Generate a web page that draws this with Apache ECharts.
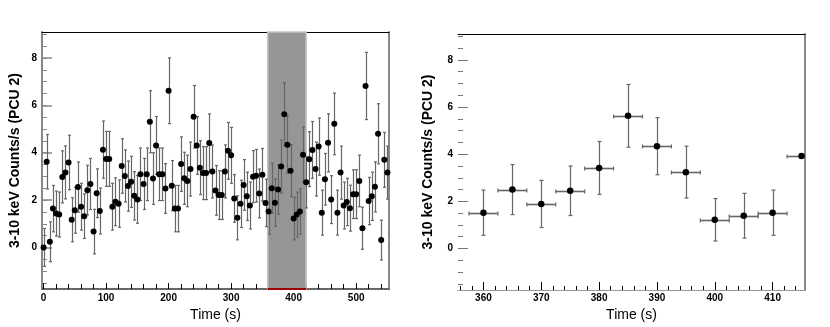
<!DOCTYPE html>
<html>
<head>
<meta charset="utf-8">
<script src="https://cdn.jsdelivr.net/npm/echarts@6/dist/echarts.min.js"></script>
<style>
html, body { margin: 0; padding: 0; background: #fff; }
#chart { width: 830px; height: 327px; }
</style>
</head>
<body>
<div id="chart"></div>
<script>
'use strict';

// full light curve, 5 s bins
var times = [
    0, 5, 10, 15, 20, 25, 30, 35, 40, 45,
    50, 55, 60, 65, 70, 75, 80, 85, 90, 95,
    100, 105, 110, 115, 120, 125, 130, 135, 140, 145,
    150, 155, 160, 165, 170, 175, 180, 185, 190, 195,
    200, 205, 210, 215, 220, 225, 230, 235, 240, 245,
    250, 255, 260, 265, 270, 275, 280, 285, 290, 295,
    300, 305, 310, 315, 320, 325, 330, 335, 340, 345,
    350, 355, 360, 365, 370, 375, 380, 385, 390, 395,
    400, 405, 410, 415, 420, 425, 430, 435, 440, 445,
    450, 455, 460, 465, 470, 475, 480, 485, 490, 495,
    500, 505, 510, 515, 520, 525, 530, 535, 540, 545,
    550
];
var rates = [
    0.00, 3.62, 0.24, 1.64, 1.43, 1.39, 2.98, 3.17, 3.59, 1.17,
    1.57, 2.55, 1.72, 1.32, 2.42, 2.68, 0.67, 2.29, 1.54, 4.13,
    3.74, 3.74, 1.72, 1.93, 1.85, 3.44, 3.02, 2.59, 2.77, 2.18,
    2.03, 3.09, 2.68, 3.09, 5.31, 2.91, 4.31, 3.09, 3.09, 2.49,
    6.62, 2.61, 1.64, 1.64, 3.52, 2.92, 2.81, 3.31, 5.52, 4.31,
    3.37, 3.14, 3.14, 4.41, 3.21, 2.41, 2.21, 2.21, 3.21, 4.08,
    3.89, 2.07, 1.25, 1.84, 2.64, 2.16, 1.77, 2.99, 3.03, 2.28,
    3.07, 1.88, 1.52, 2.50, 1.89, 2.45, 3.42, 5.63, 4.34, 3.24,
    1.22, 1.39, 1.52, 3.92, 2.75, 3.73, 4.12, 3.31, 4.26, 1.47,
    2.88, 4.42, 2.02, 5.22, 1.47, 3.16, 1.77, 1.92, 1.66, 2.25,
    2.25, 2.81, 0.81, 6.82, 1.96, 2.16, 2.56, 4.80, 0.31, 3.70,
    3.16
];
var rateErrors = [
    0.80, 1.15, 0.84, 0.98, 0.95, 0.95, 1.10, 1.12, 1.15, 0.93,
    0.97, 1.06, 0.99, 0.94, 1.05, 1.08, 0.94, 1.03, 0.97, 1.21,
    1.16, 1.16, 0.99, 1.01, 1.00, 1.15, 1.10, 1.06, 1.08, 1.02,
    1.01, 1.11, 1.08, 1.11, 1.31, 1.09, 1.22, 1.11, 1.11, 1.05,
    1.39, 1.06, 0.98, 0.98, 1.15, 1.10, 1.09, 1.14, 1.32, 1.22,
    1.14, 1.12, 1.12, 1.23, 1.12, 1.05, 1.03, 1.03, 1.12, 1.20,
    1.18, 1.01, 0.93, 1.00, 1.07, 1.02, 0.99, 1.10, 1.11, 1.03,
    1.11, 1.00, 0.96, 1.06, 1.00, 1.05, 1.12, 1.33, 1.21, 1.10,
    0.90, 0.95, 0.96, 1.17, 1.08, 1.16, 1.20, 1.14, 1.21, 0.95,
    1.09, 1.23, 1.01, 1.30, 0.95, 1.12, 0.99, 1.00, 0.97, 1.03,
    1.03, 1.09, 0.89, 1.42, 1.00, 1.02, 1.06, 1.27, 0.84, 1.16,
    1.12
];

// zoomed interval (right panel)
var zoomTimes = [360, 365, 370, 375, 380, 385, 390, 395, 400, 405, 410, 415];
var zoomRates = [1.52, 2.50, 1.89, 2.45, 3.42, 5.63, 4.34, 3.24, 1.22, 1.39, 1.52, 3.92];
var zoomErrors = [0.96, 1.06, 1.00, 1.05, 1.12, 1.33, 1.21, 1.10, 0.90, 0.95, 0.96, 0];
var binHalfWidth = 2.5;

// highlighted interval on the full curve
var shadeRange = [358.5, 420];

// tick labels
var fullTimeTicks = [0, 100, 200, 300, 400, 500];
var zoomTimeTicks = [360, 370, 380, 390, 400, 410];
var rateTicks = [0, 2, 4, 6, 8];

var fullRange = [-2.5, 552.5];
var zoomRange = [355.6, 415.6];
var rateRange = [-1.76, 9.1];

function steps(from, to, step) {
    var out = [];
    for (var v = from; v <= to + 1e-9; v += step) out.push(+v.toFixed(4));
    return out;
}
var fullTimeMinor = steps(20, 540, 20);
var zoomTimeMinor = steps(356, 414, 2);
var rateMinor = steps(-1.5, 9, 0.5);

var FONT = 'Liberation Sans';
var barColor = '#666';

var labelStyle = { fontFamily: 'Liberation Sans Narrow, Liberation Sans', fontSize: 10, fontWeight: 'bold', color: '#000' };

function mainAxis(grid, pos, range, ticks, opts) {
    return {
        type: 'value', gridIndex: grid, position: pos,
        min: range[0], max: range[1],
        splitLine: { show: false },
        axisLine: { show: opts.line !== false, onZero: false,
                    lineStyle: { color: opts.lineColor || '#777', width: opts.lineWidth || 1 } },
        axisTick: { inside: true, length: opts.tickLen, customValues: ticks,
                    lineStyle: { color: opts.tickColor || '#000', width: opts.tickWidth || 1 } },
        axisLabel: Object.assign({ customValues: ticks, margin: opts.margin }, labelStyle),
        name: opts.name || '', nameLocation: 'middle', nameGap: opts.nameGap || 0,
        nameTextStyle: { fontFamily: FONT, fontSize: 14, fontWeight: opts.nameWeight || 'normal', color: '#000' }
    };
}

function minorAxis(grid, pos, range, ticks, len, color) {
    return {
        type: 'value', gridIndex: grid, position: pos,
        min: range[0], max: range[1],
        splitLine: { show: false },
        axisLine: { show: false, onZero: false },
        axisTick: { inside: true, length: len, customValues: ticks, lineStyle: { color: color, width: 1 } },
        axisLabel: { show: false }
    };
}

function frameAxis(grid, pos, range, color, width) {
    return {
        type: 'value', gridIndex: grid, position: pos,
        min: range[0], max: range[1],
        splitLine: { show: false },
        axisLine: { show: true, onZero: false, lineStyle: { color: color, width: width } },
        axisTick: { show: false },
        axisLabel: { show: false }
    };
}

function errorBars(cap, withX) {
    return function (params, api) {
        var t = api.value(0), v = api.value(1), ey = api.value(2), ex = api.value(3);
        var style = { stroke: barColor, lineWidth: 1.2 };
        var kids = [];
        if (ey > 0) {
            var lo = api.coord([t, v - ey]), hi = api.coord([t, v + ey]);
            var x = Math.round(lo[0]) + 0.5;
            kids.push({ type: 'line', shape: { x1: x, y1: lo[1], x2: x, y2: hi[1] }, style: style });
            kids.push({ type: 'line', shape: { x1: x - cap, y1: lo[1], x2: x + cap, y2: lo[1] }, style: style });
            kids.push({ type: 'line', shape: { x1: x - cap, y1: hi[1], x2: x + cap, y2: hi[1] }, style: style });
        }
        if (withX && ex > 0) {
            var l = api.coord([t - ex, v]), r = api.coord([t + ex, v]);
            var y = Math.round(l[1]) + 0.5;
            var xs = { stroke: barColor, lineWidth: 1.6 };
            kids.push({ type: 'line', shape: { x1: l[0], y1: y, x2: r[0], y2: y }, style: xs });
            kids.push({ type: 'line', shape: { x1: l[0], y1: y - cap, x2: l[0], y2: y + cap }, style: style });
            kids.push({ type: 'line', shape: { x1: r[0], y1: y - cap, x2: r[0], y2: y + cap }, style: style });
        }
        return { type: 'group', children: kids };
    };
}

var fullPoints = times.map(function (t, i) { return [t, rates[i], rateErrors[i], 0]; });
var zoomPoints = zoomTimes.map(function (t, i) { return [t, zoomRates[i], zoomErrors[i], binHalfWidth]; });

var chart = echarts.init(document.getElementById('chart'), null, { renderer: 'canvas' });

var option = {
    animation: false,
    backgroundColor: '#fff',
    grid: [
        { left: 42, top: 32, width: 347, height: 260 },
        { left: 458, top: 34, width: 347, height: 261 }
    ],
    xAxis: [
        mainAxis(0, 'bottom', fullRange, fullTimeTicks, { tickLen: 6, margin: 4, lineColor: '#666', lineWidth: 2,
            name: 'Time (s)', nameGap: 17 }),
        minorAxis(0, 'bottom', fullRange, fullTimeMinor, 5, '#000'),
        frameAxis(0, 'top', fullRange, '#000', 1),
        mainAxis(1, 'bottom', zoomRange, zoomTimeTicks, { tickLen: 8, margin: 3, lineColor: '#999', lineWidth: 1,
            name: 'Time (s)', nameGap: 18 }),
        minorAxis(1, 'bottom', zoomRange, zoomTimeMinor, 4, '#000'),
        frameAxis(1, 'top', zoomRange, '#000', 1)
    ],
    yAxis: [
        mainAxis(0, 'left', rateRange, rateTicks, { tickLen: 10, margin: 5, lineColor: '#888', lineWidth: 2,
            tickColor: '#888', tickWidth: 1.5,
            name: '3-10 keV Counts/s (PCU 2)', nameGap: 20, nameWeight: 'bold' }),
        minorAxis(0, 'left', rateRange, rateMinor, 5, '#888'),
        frameAxis(0, 'right', rateRange, '#888', 2),
        mainAxis(1, 'left', rateRange, rateTicks, { tickLen: 10, margin: 5, line: false,
            tickColor: '#777', tickWidth: 1,
            name: '3-10 keV Counts/s (PCU 2)', nameGap: 23, nameWeight: 'bold' }),
        minorAxis(1, 'left', rateRange, rateMinor, 5, '#777'),
        frameAxis(1, 'right', rateRange, '#888', 2)
    ],
    series: [
        {
            type: 'line', xAxisIndex: 0, yAxisIndex: 0, z: 1, silent: true,
            data: [[shadeRange[0], rateRange[0]], [shadeRange[1], rateRange[0]]],
            symbol: 'none', lineStyle: { color: '#a00000', width: 2 },
            markArea: {
                silent: true,
                itemStyle: { color: '#969696', borderColor: '#c4c4c4', borderWidth: 1.5 },
                data: [[{ xAxis: shadeRange[0] }, { xAxis: shadeRange[1] }]]
            }
        },
        {
            type: 'custom', xAxisIndex: 0, yAxisIndex: 0, z: 2, clip: true,
            renderItem: errorBars(1.5, false),
            encode: { x: 0, y: 1 },
            data: fullPoints
        },
        {
            type: 'scatter', xAxisIndex: 0, yAxisIndex: 0, z: 3,
            symbol: 'circle', symbolSize: 6,
            itemStyle: { color: '#000', opacity: 1 },
            data: fullPoints.map(function (p) { return [p[0], p[1]]; })
        },
        {
            type: 'custom', xAxisIndex: 3, yAxisIndex: 3, z: 2, clip: true,
            renderItem: errorBars(2, true),
            encode: { x: 0, y: 1 },
            data: zoomPoints
        },
        {
            type: 'scatter', xAxisIndex: 3, yAxisIndex: 3, z: 3,
            symbol: 'circle', symbolSize: 6.5,
            itemStyle: { color: '#000', opacity: 1 },
            data: zoomPoints.map(function (p) { return [p[0], p[1]]; })
        }
    ]
};

chart.setOption(option);
</script>
</body>
</html>
